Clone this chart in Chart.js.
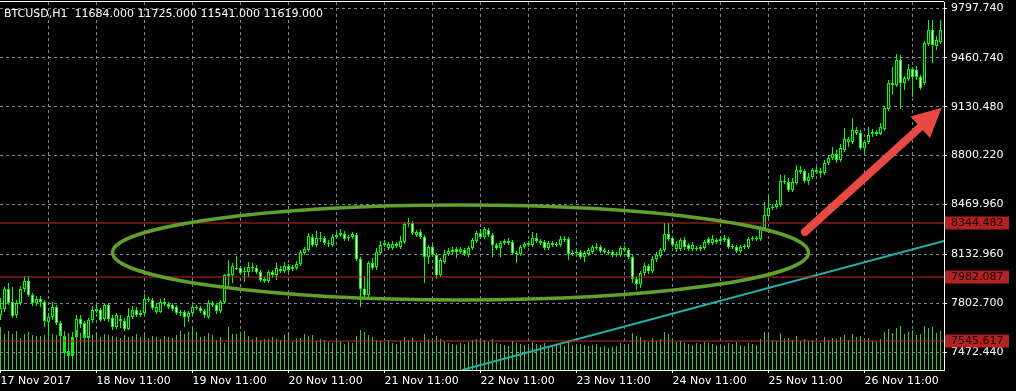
<!DOCTYPE html>
<html><head><meta charset="utf-8">
<script src="https://cdn.jsdelivr.net/npm/chart.js@4.4.1/dist/chart.umd.min.js"></script>
<style>html,body{margin:0;padding:0;background:#000;overflow:hidden}canvas{display:block}</style>
</head><body>
<canvas id="c" width="1016" height="391"></canvas>
<script>
// ---------- data ----------
const symbolInfo = 'BTCUSD,H1  11684.000 11725.000 11541.000 11619.000';
const dateLabels = ['17 Nov 2017','18 Nov 11:00','19 Nov 11:00','20 Nov 11:00','21 Nov 11:00','22 Nov 11:00','23 Nov 11:00','24 Nov 11:00','25 Nov 11:00','26 Nov 11:00'];
const barsPerLabel = 24;
const barsPerGrid = 12;
const priceTicks = [7472.440, 7802.700, 8132.960, 8469.960, 8800.220, 9130.480, 9460.740, 9797.740];
const priceMin = 7350.77, priceMax = 9838.30;

const open = [7722,7763,7898,7810,7722,7804,7898,7952,7858,7804,7831,7810,7675,7709,7777,7668,7580,7479,7445,7574,7695,
7668,7567,7689,7749,7756,7695,7790,7702,7641,7682,7682,7628,7709,7756,7722,7736,7824,7824,7743,7743,
7797,7797,7790,7777,7736,7743,7709,7736,7770,7770,7749,7709,7790,7790,7749,7810,8000,7993,8033,8040,
8013,8013,8040,8040,8013,7952,7952,8013,7993,8020,8020,8054,8047,8040,8067,8142,8162,8250,8196,8236,
8243,8209,8196,8250,8263,8270,8243,8250,8263,8101,7898,7858,8074,8047,8142,8196,8175,8175,8202,8182,
8216,8338,8344,8263,8284,8250,8115,8182,8128,7993,8081,8135,8148,8169,8148,8162,8128,8175,8223,8277,
8250,8297,8263,8196,8175,8209,8223,8216,8142,8135,8182,8196,8196,8243,8223,8216,8175,8196,8202,8196,
8229,8236,8135,8142,8148,8115,8135,8148,8175,8182,8162,8148,8148,8135,8128,8175,8162,8115,7966,7932,
8006,8054,8020,8101,8121,8162,8270,8243,8169,8169,8229,8196,8169,8169,8182,8175,8236,8209,8216,8223,
8229,8236,8189,8182,8155,8182,8182,8236,8236,8236,8311,8392,8446,8453,8466,8622,8622,8568,8615,8689,
8696,8628,8655,8689,8696,8682,8750,8784,8811,8770,8838,8892,8892,8953,8953,8851,8892,8946,8960,8946,
8980,9115,9291,9277,9446,9291,9318,9385,9379,9331,9291,9554,9649,9541,9568];
const high = [7837,7912,7939,7912,7824,7919,7986,7986,7871,7851,7851,7824,7736,7810,7790,7682,7594,7493,7607,7722,7722,
7682,7702,7783,7790,7770,7804,7804,7722,7736,7722,7702,7770,7783,7777,7756,7864,7844,7837,7797,7831,
7837,7810,7804,7790,7756,7756,7749,7790,7790,7783,7763,7824,7817,7804,7824,8000,8094,8074,8121,8054,
8047,8081,8074,8061,8027,7979,8027,8027,8074,8054,8081,8067,8061,8088,8162,8182,8277,8270,8290,8284,
8256,8229,8270,8284,8304,8290,8263,8284,8277,8115,7986,8088,8108,8175,8223,8229,8216,8223,8216,8256,
8351,8378,8358,8297,8304,8263,8196,8196,8142,8108,8162,8175,8182,8182,8182,8175,8189,8243,8290,8304,
8317,8311,8277,8209,8223,8236,8243,8229,8155,8196,8216,8223,8284,8277,8236,8229,8223,8223,8216,8256,
8256,8250,8162,8162,8162,8155,8175,8196,8209,8196,8175,8162,8162,8148,8189,8189,8175,8128,7986,8020,
8074,8067,8121,8148,8175,8344,8344,8256,8223,8243,8250,8209,8216,8189,8196,8229,8250,8263,8243,8256,
8263,8250,8202,8196,8196,8202,8250,8256,8256,8324,8486,8534,8473,8500,8669,8669,8649,8649,8737,8730,
8709,8682,8716,8723,8716,8770,8804,8858,8838,8878,8987,8926,9054,8993,8973,8906,8993,8980,8973,9020,
9135,9311,9399,9487,9480,9338,9419,9399,9406,9345,9575,9717,9717,9609,9717];
const low = [7689,7743,7790,7702,7702,7790,7878,7844,7783,7783,7777,7641,7574,7689,7655,7553,7452,7432,7432,7560,7634,
7553,7553,7668,7736,7675,7682,7675,7621,7628,7634,7614,7621,7695,7709,7709,7722,7810,7756,7729,7736,
7783,7763,7749,7722,7716,7641,7675,7722,7756,7736,7702,7695,7777,7729,7736,7797,7905,7939,8027,7993,
7946,7979,8013,8000,7946,7939,7939,7972,7959,8006,8006,8013,8020,8027,8054,8128,8148,8182,8182,8216,
8196,8182,8182,8236,8250,8223,8223,8236,8088,7777,7824,7844,8027,8027,8128,8182,8162,8162,8175,8169,
8202,8317,8263,8250,8236,7939,8067,8115,7966,7979,8067,8121,8135,8108,8135,8121,8115,8162,8209,8236,
8236,8250,8115,8162,8115,8196,8196,8128,8074,8121,8169,8182,8182,8209,8196,8162,8162,8182,8182,8182,
8216,8094,8121,8128,8101,8081,8121,8135,8162,8142,8135,8128,8115,8115,8115,8148,8101,7939,7891,7905,
7986,8000,8006,8081,8108,8148,8223,8182,8148,8155,8162,8155,8155,8155,8155,8162,8196,8196,8202,8209,
8216,8169,8169,8142,8142,8169,8169,8223,8223,8223,8297,8378,8432,8439,8453,8608,8554,8554,8601,8676,
8615,8601,8642,8676,8649,8669,8737,8770,8750,8757,8824,8858,8878,8939,8838,8811,8878,8926,8933,8940,
8966,9102,9210,9264,9115,9244,9304,9196,9311,9244,9277,9541,9426,9514,9554];
const close = [7770,7898,7804,7716,7804,7898,7952,7858,7804,7831,7810,7682,7709,7777,7668,7580,7466,7445,7574,7695,7662,
7567,7689,7756,7763,7689,7790,7695,7641,7722,7695,7628,7716,7756,7722,7736,7831,7831,7770,7777,7810,
7810,7777,7763,7736,7743,7709,7736,7777,7777,7749,7722,7804,7804,7749,7810,7993,7986,8054,8040,8006,
8020,8047,8047,8013,7959,7966,8013,7993,8040,8033,8054,8027,8033,8067,8148,8169,8256,8196,8243,8243,
8209,8202,8250,8263,8277,8236,8250,8270,8101,7898,7858,8074,8040,8148,8196,8209,8202,8202,8189,8223,
8338,8344,8277,8284,8250,8115,8182,8128,7993,8094,8135,8155,8162,8148,8169,8135,8175,8229,8277,8250,
8304,8263,8196,8175,8209,8223,8209,8142,8135,8182,8202,8209,8243,8223,8209,8175,8209,8209,8196,8236,
8236,8135,8142,8148,8115,8142,8162,8182,8182,8155,8148,8142,8128,8128,8175,8162,8115,7966,7932,8006,
8054,8020,8101,8128,8162,8270,8236,8196,8202,8229,8182,8169,8196,8175,8169,8216,8209,8236,8229,8236,
8243,8182,8182,8155,8182,8189,8236,8243,8243,8311,8398,8446,8453,8473,8628,8628,8568,8622,8703,8703,
8628,8655,8703,8703,8682,8750,8784,8811,8770,8851,8912,8912,8973,8973,8851,8892,8939,8960,8946,8993,
9122,9291,9277,9446,9291,9325,9385,9331,9331,9257,9561,9649,9548,9581,9649];
const volume = [43,36,39,36,39,32,36,38,35,34,34,35,34,36,35,40,39,37,36,40,37,
36,34,35,37,33,36,35,34,33,32,35,33,34,36,33,35,32,34,33,31,
34,33,32,35,39,36,38,43,38,33,34,37,35,30,33,27,43,36,36,37,
39,34,31,33,30,31,31,33,31,30,35,36,28,31,32,36,34,35,29,31,
30,28,27,30,29,26,28,27,34,40,38,35,33,30,29,28,30,27,26,29,
33,30,32,28,27,36,31,29,34,31,29,27,26,25,27,26,28,30,31,29,
30,28,31,27,26,25,24,29,27,26,25,24,28,26,25,27,24,23,25,26,
24,30,25,24,26,25,24,25,26,23,24,22,23,24,27,25,26,37,34,33,
30,28,32,29,31,38,36,30,28,29,27,26,25,27,26,28,27,26,25,24,
25,27,26,28,25,24,27,26,25,31,38,35,30,29,37,31,32,30,34,29,
31,29,30,28,27,33,30,32,31,33,35,30,36,33,34,30,32,29,28,31,
38,41,37,42,44,36,38,40,35,36,44,42,43,37,39];
const volumeMax = 368;

const levels = [8344.482, 7982.087, 7545.617];
const trendLine = [{x: 115.4, y: 7350.8}, {x: 235.9, y: 8222.8}];
const ellipseBars = [28, 202];
const ellipsePrices = [7823.9, 8466.1];
const arrowFrom = {x: 201.1, y: 8283.6};
const arrowTo = {x: 235.3, y: 9123.8};

// ---------- styles ----------
const LIME = '#00ff00', VOLC = '#32cd32', GRID = '#778899', LEVEL_LINE = '#c62626', LEVEL_BOX = '#b22222';
const FONT = '"DejaVu Sans", sans-serif';
Chart.defaults.font.family = FONT;
Chart.defaults.font.size = 11;
Chart.defaults.color = '#ffffff';

const idx = open.map((_, i) => i);
const wickData = idx.map(i => ({x: i, y: [low[i], high[i]]}));
const bodyData = idx.map(i => ({x: i, y: [open[i], close[i]]}));
const volData = idx.map(i => ({x: i, y: volume[i]}));
const bodyFill = idx.map(i => close[i] >= open[i] ? '#000000' : '#ffffff');

const overlay = {
  id: 'overlay',
  afterDatasetsDraw(chart) {
    const {ctx, chartArea: ca, scales: {x, y}} = chart;
    ctx.save();
    ctx.beginPath(); ctx.rect(ca.left, ca.top, ca.right - ca.left, ca.bottom - ca.top); ctx.clip();
    ctx.fillStyle = LEVEL_LINE;
    levels.forEach(v => { const py = Math.round(y.getPixelForValue(v)); ctx.fillRect(ca.left, py - 0.5, ca.right - ca.left, 1); });
    // ellipse
    const ex1 = x.getPixelForValue(ellipseBars[0]), ex2 = x.getPixelForValue(ellipseBars[1]);
    const ey1 = y.getPixelForValue(ellipsePrices[1]), ey2 = y.getPixelForValue(ellipsePrices[0]);
    ctx.beginPath();
    ctx.ellipse((ex1 + ex2) / 2, (ey1 + ey2) / 2, (ex2 - ex1) / 2, (ey2 - ey1) / 2, 0, 0, Math.PI * 2);
    ctx.strokeStyle = '#61a02b'; ctx.lineWidth = 3.5; ctx.stroke();
    // arrow
    const p0 = {x: x.getPixelForValue(arrowFrom.x), y: y.getPixelForValue(arrowFrom.y)};
    const p1 = {x: x.getPixelForValue(arrowTo.x), y: y.getPixelForValue(arrowTo.y)};
    const a = Math.atan2(p1.y - p0.y, p1.x - p0.x), c = Math.cos(a), s = Math.sin(a);
    const hl = 29, hw = 14.5;
    const bx = p1.x - hl * c, by = p1.y - hl * s;
    ctx.strokeStyle = '#e84a43'; ctx.fillStyle = '#e84a43';
    ctx.lineWidth = 8; ctx.lineCap = 'round';
    ctx.beginPath(); ctx.moveTo(p0.x, p0.y); ctx.lineTo(bx + 2 * c, by + 2 * s); ctx.stroke();
    ctx.beginPath(); ctx.moveTo(p1.x, p1.y);
    ctx.lineTo(bx - hw * s, by + hw * c); ctx.lineTo(bx + hw * s, by - hw * c); ctx.closePath(); ctx.fill();
    ctx.restore();
  },
  afterDraw(chart) {
    const {ctx, chartArea: ca, scales: {y}} = chart;
    ctx.save();
    ctx.fillStyle = '#ffffff';
    ctx.fillRect(0, 1, ca.right, 1);
    ctx.font = '11px ' + FONT;
    ctx.textBaseline = 'alphabetic'; ctx.textAlign = 'left';
    ctx.fillText(symbolInfo, 4, 17);
    ctx.textBaseline = 'middle';
    levels.forEach(v => {
      const py = Math.round(y.getPixelForValue(v));
      ctx.fillStyle = LEVEL_BOX; ctx.fillRect(ca.right + 1, py - 6.5, 64, 13);
      ctx.fillStyle = '#1a0000'; ctx.fillText(v.toFixed(3), ca.right + 7, py + 0.5);
    });
    ctx.restore();
  }
};

new Chart(document.getElementById('c'), {
  type: 'bar',
  data: {
    datasets: [
      {type: 'bar', data: wickData, backgroundColor: LIME, borderWidth: 0, barThickness: 1, grouped: false, inflateAmount: 0, minBarLength: 1, order: 3, yAxisID: 'y'},
      {type: 'bar', data: bodyData, backgroundColor: bodyFill, borderColor: LIME, borderWidth: 1, borderSkipped: false, barThickness: 3, grouped: false, inflateAmount: 0, minBarLength: 1, order: 2, yAxisID: 'y'},
      {type: 'bar', data: volData, backgroundColor: VOLC, borderWidth: 0, barThickness: 1, grouped: false, inflateAmount: 0, order: 1, yAxisID: 'yv'},
      {type: 'line', data: trendLine, borderColor: '#20b2aa', borderWidth: 2, pointRadius: 0, order: 0, yAxisID: 'y'}
    ]
  },
  options: {
    responsive: false, animation: false, devicePixelRatio: 1, events: [],
    layout: {padding: {top: 2, left: 0, right: 0, bottom: 0}},
    plugins: {legend: {display: false}, tooltip: {enabled: false}},
    scales: {
      x: {
        type: 'linear', min: -0.125, max: 235.875, offset: false, bounds: 'data',
        afterBuildTicks(scale) {
          const t = [];
          for (let v = 0; v < open.length; v += barsPerGrid) t.push({value: v});
          scale.ticks = t;
        },
        afterFit(scale) { scale.height = 21; scale.paddingLeft = 0; scale.paddingRight = 0; scale.paddingTop = 0; scale.paddingBottom = 0; },
        grid: {
          offset: false, lineWidth: 1, tickLength: 3,
          color: c => (c.tick && c.tick.value === 0) ? 'rgba(0,0,0,0)' : GRID,
          tickColor: c => (c.tick && c.tick.value % barsPerLabel === 0) ? '#ffffff' : 'rgba(0,0,0,0)',
          tickBorderDash: []
        },
        border: {display: true, color: '#ffffff', width: 1, dash: [3, 3]},
        ticks: {
          autoSkip: false, maxRotation: 0, minRotation: 0, align: 'start', padding: 2, color: '#ffffff',
          callback: v => (v % barsPerLabel === 0) ? (dateLabels[v / barsPerLabel] || '') : ''
        }
      },
      y: {
        type: 'linear', position: 'right', min: priceMin, max: priceMax, bounds: 'data',
        afterBuildTicks(scale) { scale.ticks = priceTicks.map(v => ({value: v})); },
        afterFit(scale) { scale.width = 72; scale.paddingTop = 0; scale.paddingBottom = 0; scale.paddingLeft = 0; scale.paddingRight = 0; },
        grid: {color: GRID, lineWidth: 1, tickLength: 3, tickColor: '#ffffff', tickBorderDash: []},
        border: {display: true, color: '#ffffff', width: 1, dash: [3, 3]},
        ticks: {padding: 4, color: '#ffffff', crossAlign: 'near', callback: v => Number(v).toFixed(3)}
      },
      yv: {type: 'linear', display: false, min: 0, max: volumeMax}
    }
  },
  plugins: [overlay]
});
</script>
</body></html>
